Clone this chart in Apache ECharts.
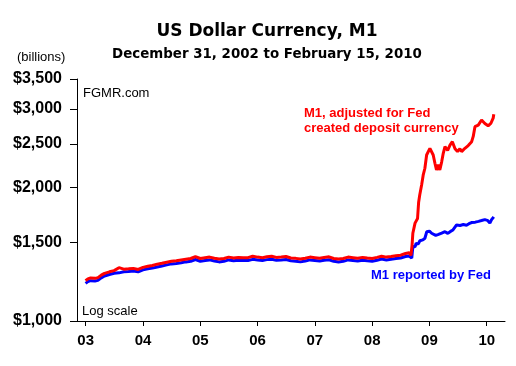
<!DOCTYPE html>
<html><head><meta charset="utf-8">
<script src="https://cdn.jsdelivr.net/npm/echarts@6/dist/echarts.min.js"></script>
<style>html,body{margin:0;padding:0;background:#fff}#c{width:516px;height:366px}</style>
</head><body><div id="c"></div>
<script>
// ---- data (values in billions of dollars) ----
const blueDates = ['2002-12-31','2003-01-15','2003-02-01','2003-03-01','2003-03-20','2003-04-10','2003-05-01','2003-06-01','2003-07-01','2003-08-01','2003-09-01','2003-10-01','2003-11-01','2003-12-01',
'2004-01-01','2004-02-01','2004-03-01','2004-04-01','2004-05-01','2004-06-01','2004-07-01','2004-08-01','2004-09-01','2004-10-01','2004-11-01','2004-12-01',
'2005-01-01','2005-02-01','2005-03-01','2005-04-01','2005-05-01','2005-06-01','2005-07-01','2005-08-01','2005-09-01','2005-10-01','2005-11-01','2005-12-01',
'2006-01-01','2006-02-01','2006-03-01','2006-04-01','2006-05-01','2006-06-01','2006-07-01','2006-08-01','2006-09-01','2006-10-01','2006-11-01','2006-12-01',
'2007-01-01','2007-02-01','2007-03-01','2007-04-01','2007-05-01','2007-06-01','2007-07-01','2007-08-01','2007-09-01','2007-10-01','2007-11-01','2007-12-01',
'2008-01-01','2008-02-01','2008-03-01','2008-04-01','2008-05-01','2008-06-01','2008-07-01','2008-08-01','2008-08-25','2008-09-05','2008-09-10',
'2008-09-17','2008-09-24','2008-10-01','2008-10-08','2008-10-22','2008-11-01','2008-11-20','2008-12-03','2008-12-15',
'2009-01-01','2009-01-15','2009-01-23','2009-02-10','2009-02-24','2009-03-20','2009-04-10','2009-04-28','2009-05-15','2009-05-31','2009-06-23','2009-07-15','2009-08-05','2009-08-25','2009-09-10','2009-09-26','2009-10-20','2009-11-10','2009-11-29','2009-12-20',
'2010-01-05','2010-01-21','2010-02-01','2010-02-15'];
const blueValues = [1215,1226,1232,1230,1234,1250,1262,1272,1280,1283,1290,1292,1296,1290,
1303,1310,1315,1323,1330,1337,1344,1347,1352,1358,1362,1375,
1362,1368,1372,1364,1358,1362,1372,1366,1370,1367,1368,1376,
1372,1368,1374,1377,1370,1372,1375,1366,1363,1358,1364,1372,
1368,1364,1370,1373,1362,1358,1362,1372,1368,1364,1370,1366,
1362,1370,1378,1372,1376,1382,1386,1396,1400,1390,1385,
1470,1482,1468,1495,1490,1515,1522,1535,1587,
1592,1575,1561,1558,1564,1576,1588,1574,1590,1602,1644,1640,1648,1642,1655,1665,1668,1675,1682,1690,
1684,1660,1690,1715];

const redDates = ['2002-12-31','2003-01-15','2003-02-01','2003-03-01','2003-03-20','2003-04-10','2003-05-01','2003-06-01','2003-07-01','2003-08-01','2003-09-01','2003-10-01','2003-11-01','2003-12-01',
'2004-01-01','2004-02-01','2004-03-01','2004-04-01','2004-05-01','2004-06-01','2004-07-01','2004-08-01','2004-09-01','2004-10-01','2004-11-01','2004-12-01',
'2005-01-01','2005-02-01','2005-03-01','2005-04-01','2005-05-01','2005-06-01','2005-07-01','2005-08-01','2005-09-01','2005-10-01','2005-11-01','2005-12-01',
'2006-01-01','2006-02-01','2006-03-01','2006-04-01','2006-05-01','2006-06-01','2006-07-01','2006-08-01','2006-09-01','2006-10-01','2006-11-01','2006-12-01',
'2007-01-01','2007-02-01','2007-03-01','2007-04-01','2007-05-01','2007-06-01','2007-07-01','2007-08-01','2007-09-01','2007-10-01','2007-11-01','2007-12-01',
'2008-01-01','2008-02-01','2008-03-01','2008-04-01','2008-05-01','2008-06-01','2008-07-01','2008-08-01','2008-08-25','2008-09-05','2008-09-10',
'2008-09-12','2008-09-17','2008-09-27','2008-10-01','2008-10-17','2008-10-24','2008-10-31','2008-11-12','2008-11-22','2008-12-03','2008-12-14',
'2009-01-04','2009-01-12','2009-01-25','2009-02-05','2009-02-15','2009-02-26','2009-03-08','2009-03-20','2009-03-30','2009-04-10','2009-04-27','2009-05-12','2009-05-27','2009-06-13','2009-06-29','2009-07-14','2009-07-25','2009-08-15','2009-09-05','2009-09-27','2009-10-07','2009-10-18','2009-11-08','2009-11-29','2009-12-20',
'2010-01-10','2010-01-27','2010-02-11','2010-02-15'];
const redValues = [1232,1244,1250,1247,1252,1268,1280,1290,1298,1318,1308,1310,1313,1306,
1320,1328,1333,1342,1348,1356,1363,1366,1372,1377,1382,1396,
1382,1388,1392,1384,1378,1382,1392,1386,1390,1387,1388,1398,
1392,1388,1394,1398,1390,1392,1396,1386,1383,1378,1384,1392,
1388,1384,1390,1394,1382,1378,1382,1392,1388,1384,1390,1386,
1382,1390,1398,1392,1396,1402,1406,1418,1424,1405,1400,
1480,1575,1585,1660,1700,1850,1920,2022,2127,2205,2362,
2445,2430,2362,2263,2185,2245,2185,2280,2382,2465,2420,2486,2530,2440,2404,2440,2404,2445,2480,2530,2600,2734,2757,2830,2780,
2747,2780,2857,2915];

const yTicks = [1000,1500,2000,2500,3000,3500];
const xTicks = [2003,2004,2005,2006,2007,2008,2009,2010];

// ---- build ----
function toYear(s){
  const d = Date.parse(s+'T00:00:00Z');
  const y = +s.slice(0,4);
  const a = Date.UTC(y,0,1), b = Date.UTC(y+1,0,1);
  return y + (d-a)/(b-a);
}
const blueData = blueDates.map((d,i)=>[toYear(d), blueValues[i]]);
const redData = redDates.map((d,i)=>[toYear(d), redValues[i]]);

const chart = echarts.init(document.getElementById('c'), null, {renderer:'canvas'});
const FONT = 'Liberation Sans, Arial, sans-serif';
const TFONT = 'DejaVu Sans, sans-serif';
chart.setOption({
  animation:false,
  backgroundColor:'#fff',
  grid:{left:77, right:11, top:79, bottom:45, containLabel:false},
  xAxis:{
    type:'value', min:2002.848, max:2010.319,
    axisLine:{show:true, lineStyle:{color:'#000', width:1}},
    axisTick:{show:true, length:5, lineStyle:{color:'#000'}, customValues:xTicks},
    axisLabel:{show:true, margin:12, color:'#000', fontFamily:FONT, fontWeight:'bold', fontSize:15,
      customValues:xTicks, formatter:v=>String(Math.round(v)%100).padStart(2,'0')},
    splitLine:{show:false}
  },
  yAxis:{
    type:'log', min:1000, max:3500, logBase:10,
    axisLine:{show:true, lineStyle:{color:'#000', width:1}},
    axisTick:{show:true, length:7, lineStyle:{color:'#000'}, customValues:yTicks},
    axisLabel:{show:true, margin:15, color:'#000', fontFamily:FONT, fontWeight:'bold', fontSize:16,
      customValues:yTicks, formatter:v=>'$'+String(Math.round(v)).replace(/\B(?=(\d{3})+(?!\d))/g, ',')},
    splitLine:{show:false}
  },
  series:[
    {type:'line', data:blueData, showSymbol:false, lineStyle:{color:'#0000ff', width:3}, z:2},
    {type:'line', data:redData, showSymbol:false, lineStyle:{color:'#ff0000', width:3}, z:3}
  ],
  graphic:[
    {type:'text', x:267, y:32, style:{text:'US Dollar Currency, M1', font:'bold 17px '+TFONT, fill:'#000', textAlign:'center', textVerticalAlign:'middle'}},
    {type:'text', x:267, y:55, style:{text:'December 31, 2002 to February 15, 2010', font:'bold 13.4px '+TFONT, fill:'#000', textAlign:'center', textVerticalAlign:'middle'}},
    {type:'text', x:17, y:57, style:{text:'(billions)', font:'13px '+FONT, fill:'#000', textAlign:'left', textVerticalAlign:'middle'}},
    {type:'text', x:83, y:93, style:{text:'FGMR.com', font:'13px '+FONT, fill:'#000', textAlign:'left', textVerticalAlign:'middle'}},
    {type:'text', x:82, y:311, style:{text:'Log scale', font:'13px '+FONT, fill:'#000', textAlign:'left', textVerticalAlign:'middle'}},
    {type:'text', x:304, y:113, style:{text:'M1, adjusted for Fed', font:'bold 13px '+FONT, fill:'#ff0000', textAlign:'left', textVerticalAlign:'middle'}},
    {type:'text', x:304, y:128, style:{text:'created deposit currency', font:'bold 13px '+FONT, fill:'#ff0000', textAlign:'left', textVerticalAlign:'middle'}},
    {type:'text', x:371, y:275, style:{text:'M1 reported by Fed', font:'bold 13px '+FONT, fill:'#0000ff', textAlign:'left', textVerticalAlign:'middle'}}
  ]
});
</script></body></html>
